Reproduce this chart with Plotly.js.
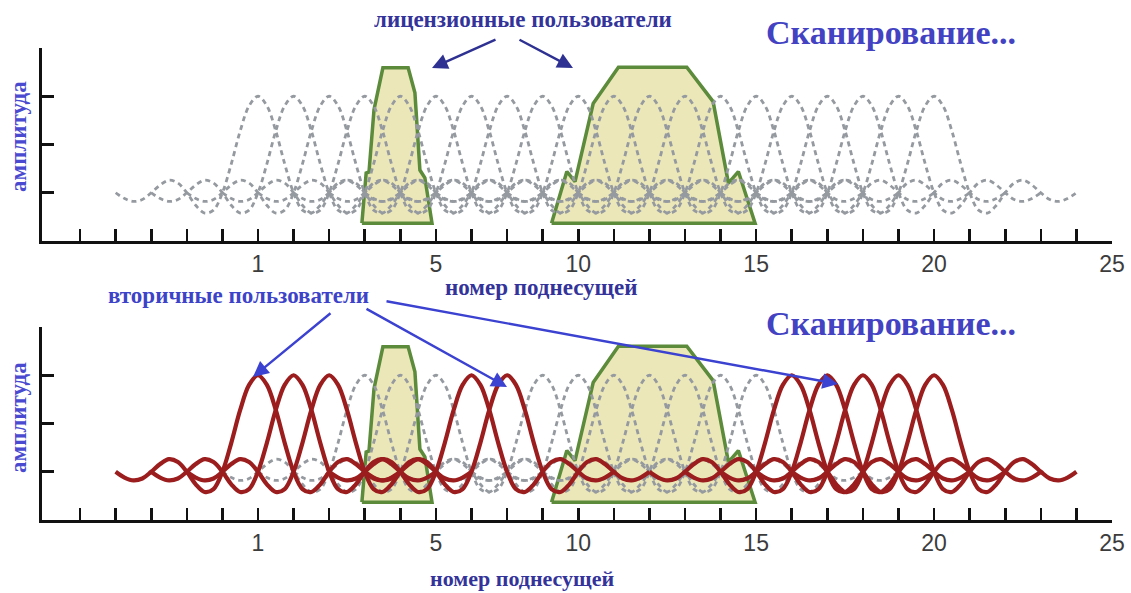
<!DOCTYPE html>
<html>
<head>
<meta charset="utf-8">
<script src="https://cdn.plot.ly/plotly-3.0.1.min.js"></script>
<style>html,body{margin:0;padding:0;background:#fff;}#chart{width:1131px;height:593px;}</style>
</head>
<body>
<div id="chart"></div>
<script>
// ---- data (x in tick-index units, y in axis units) ----
const tickPositions = [5, 10, 14, 19, 24, 29];
const tickLabels = ['1', '5', '10', '15', '20', '25'];
const allTicks = [0,1,2,3,4,5,6,7,8,9,10,11,12,13,14,15,16,17,18,19,20,21,22,23,24,25,26,27,28,29];

const subcarriers = [5,6,7,8,9,10,11,12,13,14,15,16,17,18,19,20,21,22,23,24];
const secondaryUsers = [5,6,7,11,12,20,21,22,23,24];

const pulseBase = 1;
const pulseHeight = 2;
const pulseOffsets = [-4,-3.75,-3.5,-3.25,-3,-2.75,-2.5,-2.25,-2,-1.75,-1.5,-1.25,-1,-0.75,-0.5,-0.25,0,
                      0.25,0.5,0.75,1,1.25,1.5,1.75,2,2.25,2.5,2.75,3,3.25,3.5,3.75,4];
const pulseShape = [0,-0.06,-0.09,-0.07,0,0.08,0.13,0.10,0,-0.13,-0.21,-0.18,0,0.30,0.64,0.90,1,
                    0.90,0.64,0.30,0,-0.18,-0.21,-0.13,0,0.10,0.13,0.08,0,-0.07,-0.09,-0.06,0];

const licensedA_x = [7.92, 8.04, 8.12, 8.26, 8.51, 9.22, 9.41, 9.55, 9.69, 9.89, 7.92];
const licensedA_y = [0.37, 1.41, 1.43, 2.72, 3.59, 3.59, 3.07, 1.47, 1.31, 0.37, 0.37];
const licensedB_x = [13.25, 13.68, 13.91, 14.42, 15.13, 17.05, 17.79, 18.22, 18.50, 18.97, 13.25];
const licensedB_y = [0.37, 1.44, 1.23, 2.85, 3.60, 3.60, 2.89, 1.20, 1.44, 0.37, 0.37];

// ---- build ----
function pulses(centers) {
  const xs = [], ys = [];
  centers.forEach(c => {
    pulseOffsets.forEach((o, i) => { xs.push(c + o); ys.push(pulseBase + pulseHeight * pulseShape[i]); });
    xs.push(null); ys.push(null);
  });
  return {xs, ys};
}
const gray = pulses(subcarriers);
const red = pulses(secondaryUsers);

const GREEN = '#5b8b3b', FILL = '#ece7b8', GRAY = '#959aa0', RED = '#9b1d1d';
const traces = [];
[['x','y'],['x2','y2']].forEach(([xa, ya], k) => {
  traces.push({x: licensedA_x, y: licensedA_y, xaxis: xa, yaxis: ya, type: 'scatter', mode: 'lines',
    fill: 'toself', fillcolor: FILL, line: {color: GREEN, width: 3.5}, hoverinfo: 'skip'});
  traces.push({x: licensedB_x, y: licensedB_y, xaxis: xa, yaxis: ya, type: 'scatter', mode: 'lines',
    fill: 'toself', fillcolor: FILL, line: {color: GREEN, width: 3.5}, hoverinfo: 'skip'});
  traces.push({x: gray.xs, y: gray.ys, xaxis: xa, yaxis: ya, type: 'scatter', mode: 'lines',
    line: {color: GRAY, width: 2.8, dash: '5px,4px', shape: 'spline', smoothing: 1}, connectgaps: false, hoverinfo: 'skip'});
  if (k === 1) {
    traces.push({x: red.xs, y: red.ys, xaxis: xa, yaxis: ya, type: 'scatter', mode: 'lines',
      line: {color: RED, width: 4.2, shape: 'spline', smoothing: 1}, connectgaps: false, hoverinfo: 'skip'});
  }
});

const tickText = allTicks.map(t => { const i = tickPositions.indexOf(t); return i >= 0 ? tickLabels[i] : ''; });
function xAxis(anchor) {
  return {anchor, range: [-1.07, 29], tickvals: allTicks, ticktext: tickText, ticks: 'inside', ticklen: 12,
    tickwidth: 2.6, tickcolor: '#111', showline: true, linewidth: 3, linecolor: '#111', showgrid: false,
    zeroline: false, tickfont: {family: 'Liberation Sans, Arial', size: 23, color: '#3c3c3c'}, ticklabelstandoff: 0};
}
function yAxis(anchor, domain) {
  return {anchor, domain, range: [0, 4], tickvals: [1, 2, 3, 4], ticks: 'inside', ticklen: 12, tickwidth: 2.6,
    tickcolor: '#111', showticklabels: false, showline: true, linewidth: 3, linecolor: '#111',
    showgrid: false, zeroline: false};
}

const L = 42, R = 1112, T = 48, B = 520;
const px = p => (p - L) / (R - L);
const py = p => (B - p) / (B - T);
const serif = 'Liberation Serif, Times New Roman, serif';
function label(text, x, y, size, color, angle) {
  return {text, xref: 'paper', yref: 'paper', x: px(x), y: py(y), xanchor: 'center', yanchor: 'middle',
    showarrow: false, textangle: angle || 0, font: {family: serif, size, color, weight: 'bold'}};
}
function arrow(tipX, tipY, tailX, tailY, color) {
  return {text: '', xref: 'paper', yref: 'paper', x: px(tipX), y: py(tipY), ax: tailX - tipX, ay: tailY - tipY,
    showarrow: true, arrowhead: 2, arrowsize: 1.3, arrowwidth: 2.4, arrowcolor: color, standoff: 0, startstandoff: 0};
}

const annotations = [
  label('лицензионные пользователи', 523, 20, 23, '#33339a'),
  label('Сканирование...', 891, 33, 34, '#4242c2'),
  label('номер поднесущей', 541, 287, 23, '#33339a'),
  label('амплитуда', 18, 137, 23, '#4a4ad0', -90),
  label('вторичные пользователи', 238, 295, 23, '#3d43c8'),
  label('Сканирование...', 891, 323, 34, '#4242c2'),
  label('номер поднесущей', 522, 578, 22, '#33339a'),
  label('амплитуда', 18, 418, 23, '#4a4ad0', -90),
  arrow(432, 68, 497, 39, '#2e3192'),
  arrow(573, 68, 518, 39, '#2e3192'),
  arrow(253, 377, 332, 312, '#3b41d0'),
  arrow(507, 387, 365, 308, '#3b41d0'),
  arrow(838, 384, 385, 301, '#3b41d0')
];

const layout = {
  width: 1131, height: 593, margin: {l: L, r: 1131 - R, t: T, b: 593 - B},
  paper_bgcolor: '#fff', plot_bgcolor: '#fff', showlegend: false,
  xaxis: xAxis('y'), yaxis: yAxis('x', [py(241), 1]),
  xaxis2: xAxis('y2'), yaxis2: yAxis('x2', [0, py(327)]),
  annotations
};
Plotly.newPlot('chart', traces, layout, {staticPlot: true, displayModeBar: false});
</script>
</body>
</html>
